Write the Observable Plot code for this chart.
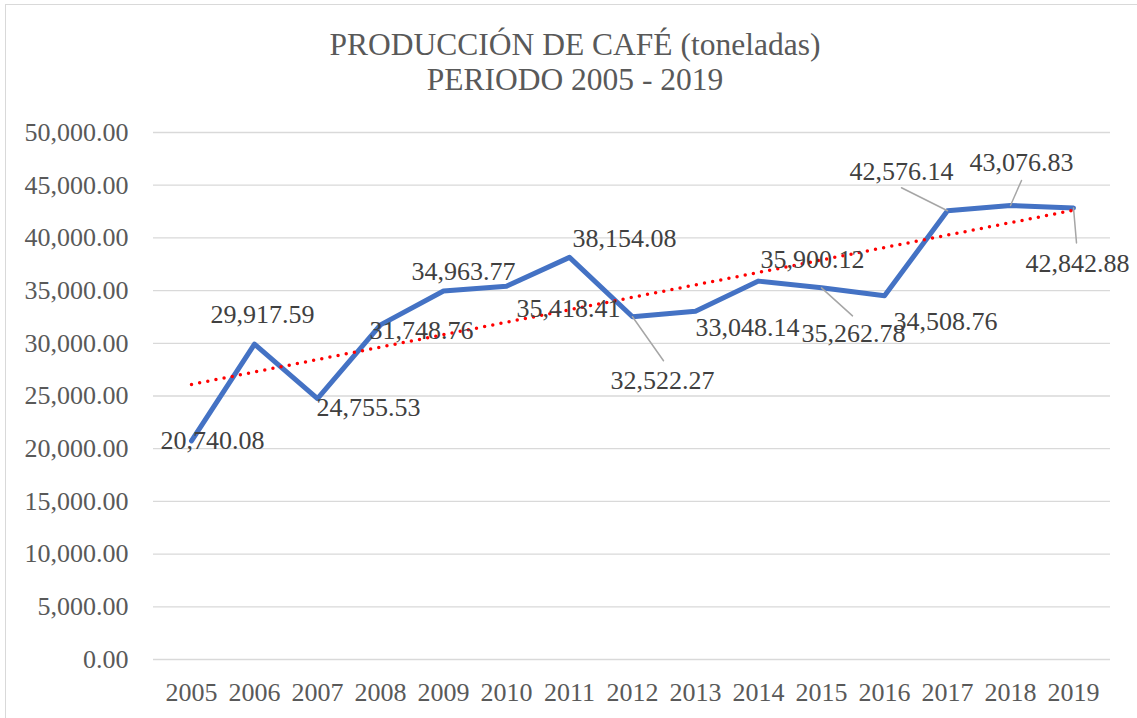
<!DOCTYPE html>
<html>
<head>
<meta charset="utf-8">
<script src="https://cdn.jsdelivr.net/npm/d3@7"></script>
<script src="https://cdn.jsdelivr.net/npm/@observablehq/plot@0.6"></script>
<style>
  html, body { margin: 0; padding: 0; background: #fff; }
  #wrap { position: relative; width: 1137px; height: 718px; overflow: hidden; }
  #frame { position: absolute; left: 5px; top: 4px; width: 1200px; height: 800px; border: 1.5px solid #d9d9d9; box-sizing: border-box; }
  .title { position: absolute; left: 0; width: 1150px; text-align: center; font-family: "Liberation Serif", "DejaVu Serif", serif; font-size: 31.5px; color: #595959; line-height: 1; }
  #chart { position: absolute; left: 0; top: 0; }
</style>
</head>
<body>
<div id="wrap">
  <div id="frame"></div>
  <div id="chart"></div>
  <div class="title" style="top:29px">PRODUCCIÓN DE CAFÉ (toneladas)</div>
  <div class="title" style="top:64px">PERIODO 2005 - 2019</div>
</div>
<script>
const years = ["2005","2006","2007","2008","2009","2010","2011","2012","2013","2014","2015","2016","2017","2018","2019"];
const production = [20740.08, 29917.59, 24755.53, 31748.76, 34963.77, 35418.41, 38154.08, 32522.27, 33048.14, 35900.12, 35262.78, 34508.76, 42576.14, 43076.83, 42842.88];
const yTicks = [0, 5000, 10000, 15000, 20000, 25000, 30000, 35000, 40000, 45000, 50000];

// label placement offsets (pixels) relative to each point — styling only
const labelDx = [21, 8, 51, 41, 20, 62, 55, 30, 52, 54, 32, 61, -46, 11, 4];
const labelDy = [0, -29, 9, 6, -19, 22, -19, 64, 16, -21, 46, 26, -39, -43, 56];
// leader lines (pixels) for some labels
const leaders = [
  {i: 7, dx: 31, dy: 44},
  {i: 10, dx: 31, dy: 28},
  {i: 12, dx: -46, dy: -23},
  {i: 13, dx: 11, dy: -25},
  {i: 14, dx: 3, dy: 35}
];

const data = years.map((y, i) => ({year: y, value: production[i], idx: i + 1}));

// linear trend (least squares) from the data
const mx = d3.mean(data, d => d.idx), my = d3.mean(data, d => d.value);
const slope = d3.sum(data, d => (d.idx - mx) * (d.value - my)) / d3.sum(data, d => (d.idx - mx) ** 2);
const intercept = my - slope * mx;
const trend = data.map(d => ({year: d.year, value: intercept + slope * d.idx}));

const fmt = d3.format(",.2f");
const font = '"Liberation Serif", "DejaVu Serif", serif';

const labelMarks = data.map((d, i) => Plot.text([d], {
  x: "year", y: "value", text: v => fmt(v.value),
  dx: labelDx[i], dy: labelDy[i],
  fill: "#404040", fontSize: 26, fontFamily: font, textAnchor: "middle"
}));

const spike = {draw(context, l) { context.moveTo(0, 0); context.lineTo(0, -l); }};
const leaderMarks = leaders.map(L => Plot.vector([data[L.i]], {
  x: "year", y: "value",
  length: Math.hypot(L.dx, L.dy),
  rotate: Math.atan2(L.dx, -L.dy) * 180 / Math.PI,
  anchor: "start", shape: spike,
  stroke: "#a6a6a6", strokeWidth: 1.5
}));

const chart = Plot.plot({
  width: 1137,
  height: 718,
  marginLeft: 153,
  marginRight: 27,
  marginTop: 132,
  marginBottom: 59,
  style: {fontFamily: font, fontSize: "26px", color: "#595959", background: "transparent"},
  x: {type: "point", domain: years, padding: 0.5, label: null},
  y: {domain: [0, 50000], label: null},
  marks: [
    Plot.gridY(yTicks, {stroke: "#d9d9d9", strokeOpacity: 1, strokeWidth: 1.3}),
    Plot.axisY(yTicks, {tickSize: 0, tickPadding: 25, tickFormat: fmt, fill: "#595959", fontSize: 26, fontFamily: font, label: null}),
    Plot.axisX({tickSize: 0, tickPadding: 23, fill: "#595959", fontSize: 26, fontFamily: font, label: null}),
    Plot.line(data, {x: "year", y: "value", stroke: "#4472C4", strokeWidth: 5, strokeLinejoin: "round", strokeLinecap: "round"}),
    Plot.line(trend, {x: "year", y: "value", stroke: "#ff0000", strokeWidth: 3.5, strokeDasharray: "0 8.3", strokeLinecap: "round"}),
    ...leaderMarks,
    ...labelMarks
  ]
});
document.getElementById("chart").appendChild(chart);
</script>
</body>
</html>
